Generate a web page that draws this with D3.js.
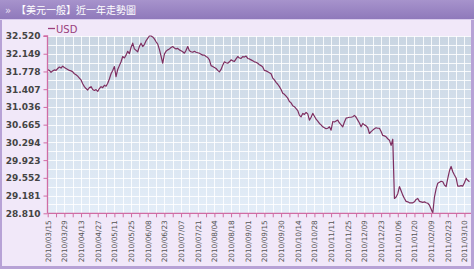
<!DOCTYPE html>
<html>
<head>
<meta charset="utf-8">
<script src="https://cdn.jsdelivr.net/npm/d3@7"></script>
<style>
  body { margin: 0; background: #fff; }
  svg { display: block; }
</style>
</head>
<body>
<svg width="474" height="269"></svg>
<script>
// data (one value per trading day)
const titleText = '【美元一般】近一年走勢圖';
const seriesName = 'USD';
const usdValues = [
  31.82, 31.80, 31.76, 31.79, 31.81, 31.80, 31.84, 31.87, 31.85, 31.89,
  31.86, 31.84, 31.82, 31.80, 31.79, 31.77, 31.73, 31.71, 31.68, 31.64,
  31.60, 31.52, 31.46, 31.42, 31.39, 31.44, 31.46, 31.40, 31.38, 31.40,
  31.36, 31.42, 31.46, 31.44, 31.49, 31.47, 31.53, 31.62, 31.73, 31.80,
  31.88, 31.67, 31.82, 31.90, 31.98, 32.09, 32.06, 32.12, 32.20, 32.15,
  32.28, 32.37, 32.25, 32.22, 32.19, 32.30, 32.37, 32.30, 32.34, 32.42,
  32.47, 32.52, 32.52, 32.50, 32.46, 32.40, 32.35, 32.24, 32.10, 31.95,
  32.14, 32.20, 32.23, 32.25, 32.28, 32.30, 32.27, 32.25, 32.26, 32.23,
  32.21, 32.19, 32.16, 32.22, 32.30, 32.21, 32.19, 32.18, 32.20, 32.18,
  32.17, 32.16, 32.14, 32.12, 32.12, 32.09, 32.07, 32.02, 31.90, 31.88,
  31.86, 31.84, 31.80, 31.77, 31.82, 31.91, 31.98, 31.96, 31.95, 31.98,
  32.02, 32.00, 31.99, 32.04, 32.09, 32.06, 32.05, 32.09, 32.08, 32.10,
  32.05, 32.04, 32.02, 32.00, 31.98, 31.97, 31.95, 31.92, 31.90, 31.87,
  31.80, 31.79, 31.77, 31.75, 31.73, 31.64, 31.60, 31.55, 31.51, 31.46,
  31.40, 31.32, 31.30, 31.26, 31.22, 31.15, 31.12, 31.06, 31.04, 31.00,
  30.96, 30.86, 30.83, 30.90, 30.88, 30.92, 30.89, 30.76, 30.82, 30.90,
  30.84, 30.78, 30.74, 30.69, 30.66, 30.62, 30.60, 30.58, 30.59, 30.62,
  30.55, 30.73, 30.72, 30.74, 30.76, 30.70, 30.66, 30.62, 30.72, 30.80,
  30.81, 30.82, 30.82, 30.83, 30.86, 30.82, 30.76, 30.70, 30.62, 30.69,
  30.66, 30.64, 30.60, 30.48, 30.52, 30.55, 30.58, 30.60, 30.59, 30.59,
  30.52, 30.44, 30.43, 30.41, 30.37, 30.34, 30.23, 30.36, 29.12, 29.15,
  29.22, 29.37, 29.28, 29.19, 29.12, 29.06, 29.05, 29.03, 29.03, 29.03,
  29.05, 29.10, 29.12, 29.06, 29.05, 29.04, 29.05, 29.03, 29.02, 28.98,
  28.90, 28.81, 29.15, 29.32, 29.44, 29.46, 29.48, 29.47, 29.40, 29.37,
  29.54, 29.70, 29.79, 29.68, 29.61, 29.55, 29.38, 29.38, 29.39, 29.38,
  29.45, 29.54, 29.50, 29.47
];
// one date label every 10 trading days
const dateLabels = [
  '2010/03/15', '2010/03/29', '2010/04/13', '2010/04/27', '2010/05/11',
  '2010/05/25', '2010/06/08', '2010/06/23', '2010/07/07', '2010/07/21',
  '2010/08/04', '2010/08/18', '2010/09/01', '2010/09/15', '2010/09/30',
  '2010/10/14', '2010/10/28', '2010/11/11', '2010/11/25', '2010/12/09',
  '2010/12/23', '2011/01/06', '2011/01/20', '2011/02/09', '2011/02/23',
  '2011/03/10'
];
const yTicks = [28.810, 29.181, 29.552, 29.923, 30.294, 30.665, 31.036, 31.407, 31.778, 32.149, 32.520];

const svg = d3.select('svg');
const width = +svg.attr('width');
const height = +svg.attr('height');

// plot box
const plotL = 47.5, plotR = 471, plotT = 36, plotB = 213.3;
const labelEvery = 10;

const defs = svg.append('defs');
const bgGrad = defs.append('linearGradient').attr('id', 'plotbg')
  .attr('x1', 0).attr('y1', 0).attr('x2', 0).attr('y2', 1);
bgGrad.append('stop').attr('offset', '0%').attr('stop-color', '#c9d5e2');
bgGrad.append('stop').attr('offset', '100%').attr('stop-color', '#e3edf8');
const barGrad = defs.append('linearGradient').attr('id', 'titlebg')
  .attr('x1', 0).attr('y1', 0).attr('x2', 0).attr('y2', 1);
barGrad.append('stop').attr('offset', '0%').attr('stop-color', '#a793cc');
barGrad.append('stop').attr('offset', '100%').attr('stop-color', '#8f79bb');

// panel + frame
svg.append('rect').attr('width', width).attr('height', height).attr('fill', '#b7a2d6');
svg.append('rect').attr('x', 2).attr('y', 0).attr('width', width - 5).attr('height', height - 3)
  .attr('fill', '#f1e8f9');
svg.append('rect').attr('width', width).attr('height', 19).attr('fill', 'url(#titlebg)');
svg.append('line').attr('x1', 0).attr('x2', width).attr('y1', 19.5).attr('y2', 19.5)
  .attr('stroke', '#d9ccec');
svg.append('text').attr('x', 5).attr('y', 14)
  .attr('font-family', 'DejaVu Sans').attr('font-size', 10).attr('fill', '#e8e0f4')
  .text('»');
svg.append('text').attr('x', 16).attr('y', 14)
  .attr('font-family', '"Noto Sans CJK TC"').attr('font-size', 10).attr('fill', '#ffffff')
  .text(titleText);

// scales
const x = d3.scaleLinear().domain([0, usdValues.length - 1])
  .range([plotL + 0.2, plotL + 0.2 + (usdValues.length - 1) * 1.667]);
const y = d3.scaleLinear().domain([yTicks[0], yTicks[yTicks.length - 1]]).range([plotB, plotT]);

svg.append('rect').attr('x', plotL).attr('y', plotT)
  .attr('width', plotR - plotL).attr('height', plotB - plotT).attr('fill', 'url(#plotbg)');

// grid
const vGrid = d3.range(5, 255, 5);
svg.append('g').selectAll('line').data(vGrid).enter().append('line')
  .attr('x1', d => Math.round(x(d)) + 0.5).attr('x2', d => Math.round(x(d)) + 0.5)
  .attr('y1', plotT).attr('y2', plotB)
  .attr('stroke', '#ffffff').attr('stroke-opacity', 0.85);
const hGrid = d3.range(1, 21).map(k => yTicks[0] + k * (yTicks[1] - yTicks[0]) / 2);
svg.append('g').selectAll('line').data(hGrid).enter().append('line')
  .attr('x1', plotL).attr('x2', plotR)
  .attr('y1', d => Math.round(y(d)) + 0.5).attr('y2', d => Math.round(y(d)) + 0.5)
  .attr('stroke', '#ffffff').attr('stroke-opacity', 0.85);

// line
const line = d3.line().x((d, i) => x(i)).y(d => y(d));
svg.append('path').datum(usdValues).attr('d', line)
  .attr('fill', 'none').attr('stroke', '#7e2e60').attr('stroke-width', 1.2)
  .attr('stroke-linejoin', 'round');

// axes
const axisColor = '#d06ca4';
const yAxis = svg.append('g').attr('transform', `translate(${plotL},0)`)
  .call(d3.axisLeft(y).tickValues(yTicks).tickFormat(d3.format('.3f')).tickSize(4).tickPadding(3));
yAxis.select('.domain').attr('stroke', axisColor).attr('stroke-width', 1.3).attr('d', `M-4,${plotT}H0V${plotB}`);
yAxis.selectAll('.tick line').attr('stroke', axisColor);
yAxis.selectAll('.tick text').attr('font-family', 'DejaVu Sans').attr('font-size', 9)
  .attr('font-weight', 'bold').attr('fill', '#444');

const xTickVals = d3.range(0, usdValues.length, 5);
const xAxis = svg.append('g').attr('transform', `translate(0,${plotB})`)
  .call(d3.axisBottom(x).tickValues(xTickVals).tickSize(4)
    .tickFormat(d => d % labelEvery === 0 ? dateLabels[d / labelEvery] : ''));
xAxis.select('.domain').attr('stroke', axisColor).attr('stroke-width', 1.3).attr('d', `M${plotL},0H${plotR}`);
xAxis.selectAll('.tick line').attr('stroke', axisColor);
xAxis.selectAll('.tick text')
  .attr('font-family', 'DejaVu Sans').attr('font-size', 7.3).attr('fill', '#555')
  .attr('text-anchor', 'end').attr('dy', '0.32em')
  .attr('transform', 'translate(0,7) rotate(-90)').attr('x', 0).attr('y', 0);

// legend
svg.append('line').attr('x1', 48).attr('x2', 55).attr('y1', 28.5).attr('y2', 28.5)
  .attr('stroke', '#9a3f7c').attr('stroke-width', 1.3);
svg.append('text').attr('x', 56).attr('y', 33)
  .attr('font-family', 'DejaVu Sans').attr('font-size', 10).attr('fill', '#9a3f7c')
  .text(seriesName);
</script>
</body>
</html>
